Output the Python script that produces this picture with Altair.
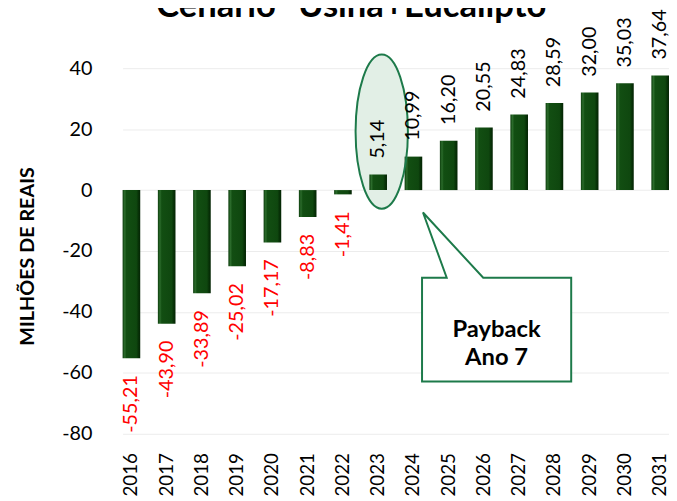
import altair as alt
import pandas as pd

years = [str(y) for y in range(2016, 2032)]
values = [-55.21, -43.90, -33.89, -25.02, -17.17, -8.83, -1.41, 5.14,
          10.99, 16.20, 20.55, 24.83, 28.59, 32.00, 35.03, 37.64]
labels = [f"{v:.2f}".replace(".", ",") for v in values]
y_ticks = [-80, -60, -40, -20, 0, 20, 40]

title_text = 'Cenário "Usina+Eucalipto"'
y_title = "MILHÕES DE REAIS"
payback_year = ["2023"]
payback_center = [19.2]
callout_year = ["2026"]
callout_center = [-45.8]
callout_text = [["Payback", "Ano 7"]]

FONT = "Lato"
GREEN = "#1d7a4a"

df = pd.DataFrame({"ano": years, "valor": values, "rotulo": labels})
df_ell = pd.DataFrame({"ano": payback_year, "valor": payback_center})
df_call = pd.DataFrame({"ano": callout_year, "valor": callout_center, "txt": callout_text})

x_enc = alt.X(
    "ano:N", sort=years,
    scale=alt.Scale(domain=years, paddingInner=0.5, paddingOuter=0),
    axis=alt.Axis(title=None, labelAngle=-90, labelFontSize=19, labelPadding=19,
                  ticks=False, domain=False, labelColor="#000", labelFont=FONT, grid=False),
)
y_enc = alt.Y(
    "valor:Q",
    scale=alt.Scale(domain=[-80, 40], nice=False, zero=False),
    axis=alt.Axis(values=y_ticks, title=y_title, titleFont=FONT, titleFontSize=20,
                  titleFontWeight="bold", titleColor="#000", titleAngle=-90,
                  titleAlign="center", titleBaseline="middle", titleX=-96, titleY=190,
                  labelFontSize=20, labelFont=FONT, labelColor="#000", labelPadding=31,
                  labelExpr="'' + datum.value",
                  ticks=False, domain=False, grid=True, gridColor="#ececec", gridWidth=1),
)

bar_grad = alt.Gradient(
    gradient="linear", x1=0, x2=1, y1=0, y2=0,
    stops=[
        alt.GradientStop(color="#0c3d0c", offset=0),
        alt.GradientStop(color="#2b6b2b", offset=0.12),
        alt.GradientStop(color="#124e12", offset=0.22),
        alt.GradientStop(color="#0f470f", offset=0.78),
        alt.GradientStop(color="#073107", offset=0.9),
        alt.GradientStop(color="#042404", offset=1),
    ],
)

ELLIPSE = ("M0.045,-0.975 A0.331,0.975 0 1,1 0.045,0.975 "
           "A0.331,0.975 0 1,1 0.045,-0.975 Z")
ellipse_fill = alt.Chart(df_ell).mark_point(
    shape=ELLIPSE, size=25600, filled=True, fill="#e2efe6", fillOpacity=1,
    strokeWidth=0, opacity=1
).encode(x=alt.X("ano:N", sort=years), y=alt.Y("valor:Q"))

bars = alt.Chart(df).mark_bar(color=bar_grad).encode(
    x=x_enc, y=y_enc, y2=alt.datum(0)
)

ellipse_line = alt.Chart(df_ell).mark_point(
    shape=ELLIPSE, size=25600, filled=False, fillOpacity=0,
    stroke=GREEN, strokeWidth=2, strokeOpacity=1, opacity=1
).encode(x=alt.X("ano:N", sort=years), y="valor:Q")

pos_labels = alt.Chart(df).transform_filter("datum.valor >= 0").mark_text(
    angle=270, align="left", baseline="middle", dx=16, fontSize=20, font=FONT, color="#000"
).encode(x=alt.X("ano:N", sort=years), y="valor:Q", text="rotulo:N")

neg_labels = alt.Chart(df).transform_filter("datum.valor < 0").mark_text(
    angle=270, align="right", baseline="middle", dx=-17, fontSize=20, font=FONT, color="#ff0000"
).encode(x=alt.X("ano:N", sort=years), y="valor:Q", text="rotulo:N")

CALLOUT = ("M-0.522,-0.4375 L-0.314,-0.4375 L-0.514,-0.9875 L-0.006,-0.4375 "
           "L0.736,-0.4375 L0.736,0.4375 L-0.522,0.4375 Z")
callout = alt.Chart(df_call).mark_point(
    shape=CALLOUT, size=57600, filled=True, fill="#ffffff", fillOpacity=1,
    stroke=GREEN, strokeWidth=2, strokeOpacity=1, opacity=1
).encode(x=alt.X("ano:N", sort=years), y="valor:Q")

callout_lbl = alt.Chart(df_call).mark_text(
    dx=12.8, fontSize=24, fontWeight="bold", font=FONT, color="#000",
    align="center", baseline="middle", lineHeight=29
).encode(x=alt.X("ano:N", sort=years), y="valor:Q", text="txt")

title = alt.Chart(pd.DataFrame({"t": [title_text]})).mark_text(
    fontSize=35, fontWeight="bold", font=FONT, color="#000",
    align="center", baseline="alphabetic"
).encode(x=alt.value(238), y=alt.value(-52), text="t:N")

chart = alt.layer(
    ellipse_fill, bars, ellipse_line, pos_labels, neg_labels, callout, callout_lbl, title
).properties(
    width=553, height=370,
    autosize=alt.AutoSizeParams(type="none"),
    padding={"left": 116, "top": 58, "right": 0, "bottom": 60},
).configure_view(stroke=None)

chart.save("out.html", embed_options={"renderer": "svg", "actions": False})
